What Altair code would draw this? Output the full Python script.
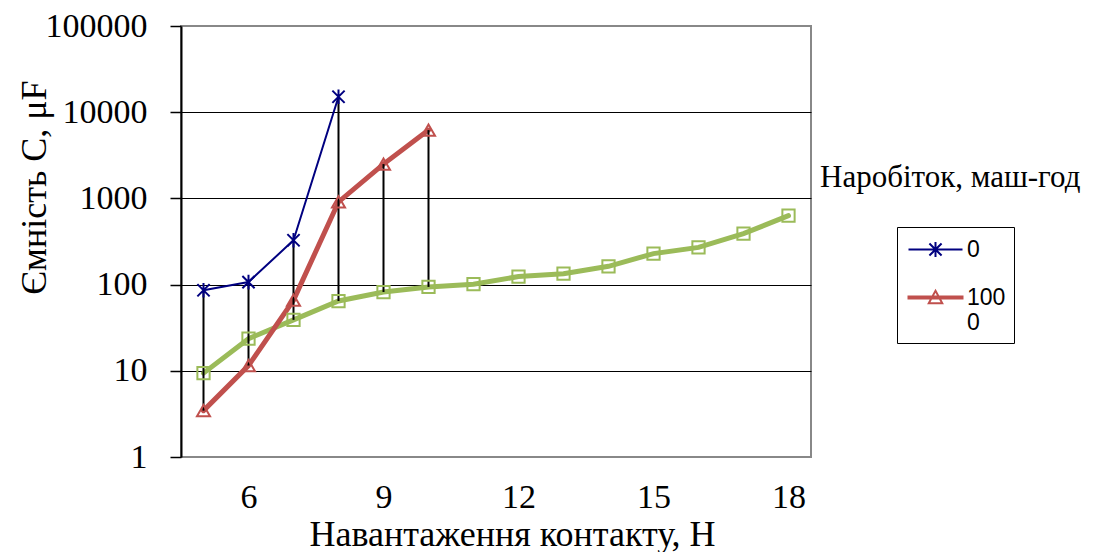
import altair as alt
import pandas as pd

# ---- data ----
loads = [5, 6, 7, 8, 9, 10, 11, 12, 13, 14, 15, 16, 17, 18]
cap_0 = [86, 107, 327, 15100]                      # наробіток 0
cap_1000 = [3.45, 11.5, 66, 910, 2500, 6200]       # наробіток 1000
cap_third = [9.4, 23.6, 39, 64.5, 82, 94, 101, 124, 134, 163, 229, 270, 390, 630]

series_names = ["0", "1000"]
third_name = "3"
x_ticks = [6, 9, 12, 15, 18]
y_ticks = [1, 10, 100, 1000, 10000, 100000]

x_title = "Навантаження контакту, Н"
y_title = "Ємність С, μF"
legend_title = "Наробіток, маш-год"

NAVY = "#000080"
RED = "#C0504D"
GREEN = "#9BBB59"

rows = []
for x, v in zip(loads, cap_0):
    rows.append({"x": x, "value": v, "series": series_names[0]})
for x, v in zip(loads, cap_1000):
    rows.append({"x": x, "value": v, "series": series_names[1]})
for x, v in zip(loads, cap_third):
    rows.append({"x": x, "value": v, "series": third_name})
df = pd.DataFrame(rows)

STAR = "M-1,-1L1,1M-1,1L1,-1M0,-1.2L0,1.2"
STAR_LEG = "M-2,0L2,0M-0.45,-0.45L0.45,0.45M-0.45,0.45L0.45,-0.45M0,-0.55L0,0.55"
TRI_LEG = ("M-2,-0.08L2,-0.08L2,0.08L-2,0.08Z"
           "M0,-0.5L0.5,0.42L-0.5,0.42Z")

serif = "Liberation Serif"
sans = "Liberation Sans"

xenc = alt.X(
    "x:Q",
    scale=alt.Scale(domain=[4.5, 18.5], nice=False, zero=False),
    axis=alt.Axis(
        values=x_ticks, ticks=False, domain=False, grid=False,
        labelFont=serif, labelFontSize=34, labelColor="black", labelPadding=23,
        title=x_title, titleFont=serif, titleFontSize=36, titleFontWeight="normal",
        titleColor="black", titleX=331, titleY=88, titleBaseline="alphabetic",
        titleAlign="center",
    ),
)
yenc = alt.Y(
    "value:Q",
    scale=alt.Scale(type="log", domain=[1, 100000], nice=False),
    axis=alt.Axis(
        values=y_ticks, format="d", tickSize=11, tickColor="black", tickWidth=1.5,
        domainColor="black", domainWidth=2,
        grid=True, gridColor="black", gridWidth=1,
        gridOpacity={"condition": {"test": "datum.value == 1 || datum.value == 100000", "value": 0}, "value": 1},
        labelFont=serif, labelFontSize=34, labelColor="black", labelPadding=23,
        title=y_title, titleFont=serif, titleFontSize=36, titleFontWeight="normal",
        titleColor="black", titleX=-147, titleY=161, titleAngle=-90,
        titleBaseline="middle", titleAlign="center",
    ),
)

base = alt.Chart(df)


def sel(name):
    return base.transform_filter(alt.FieldEqualPredicate(field="series", equal=name))


green_line = sel(third_name).mark_line(color=GREEN, strokeWidth=5, strokeCap="round").encode(x=xenc, y=yenc)
red_line = sel(series_names[1]).mark_line(color=RED, strokeWidth=5, strokeCap="round").encode(x=xenc, y=yenc)
blue_line = sel(series_names[0]).mark_line(color=NAVY, strokeWidth=2).encode(x=xenc, y=yenc)

hilo = base.transform_aggregate(
    lo="min(value)", hi="max(value)", n="count()", groupby=["x"]
).transform_filter("datum.n >= 2").mark_rule(color="black", strokeWidth=2).encode(
    x=alt.X("x:Q"), y=alt.Y("lo:Q"), y2="hi:Q"
)

green_pts = sel(third_name).mark_point(
    shape="square", filled=False, color=GREEN, size=150, strokeWidth=2, opacity=1
).encode(x=xenc, y=yenc)
red_pts = sel(series_names[1]).mark_point(
    shape="triangle-up", filled=False, color=RED, size=170, strokeWidth=2, opacity=1
).encode(x=xenc, y=yenc)
blue_pts = sel(series_names[0]).mark_point(
    shape=STAR, filled=False, color=NAVY, size=150, strokeWidth=2, opacity=1
).encode(x=xenc, y=yenc)

legend = alt.Legend(
    title=None,
    orient="none",
    legendX=716,
    legendY=201,
    strokeColor="black",
    fillColor="white",
    padding=8,
    symbolOffset=16,
    symbolSize=729,
    symbolStrokeWidth=2,
    symbolOpacity=1,
    labelFont=sans,
    labelFontSize=23,
    labelColor="black",
    labelOffset=17,
    rowPadding=21,
    labelExpr="datum.label == '1000' ? ['100', '0'] : datum.label",
)

legend_layer = sel("none").mark_point(filled=False, strokeWidth=2).encode(
    x=xenc, y=yenc,
    color=alt.Color("series:N", scale=alt.Scale(domain=series_names, range=[NAVY, RED]), legend=legend),
    shape=alt.Shape("series:N", scale=alt.Scale(domain=series_names, range=[STAR_LEG, TRI_LEG]), legend=legend),
)

legend_text = alt.Chart(pd.DataFrame({"t": [legend_title]})).mark_text(
    font=serif, fontSize=31, align="left", baseline="middle", color="black"
).encode(text="t:N", x=alt.value(639), y=alt.value(152))

chart = alt.layer(
    green_line, red_line, blue_line, hilo, green_pts, red_pts, blue_pts, legend_layer, legend_text
).properties(
    width=630, height=431,
    autosize=alt.AutoSizeParams(type="none"),
    padding={"left": 173, "top": 18, "right": 278, "bottom": 95},
    background="white",
).configure_view(stroke="#888888", strokeWidth=2)

chart.save("out.html", embed_options={"renderer": "svg", "actions": False})
